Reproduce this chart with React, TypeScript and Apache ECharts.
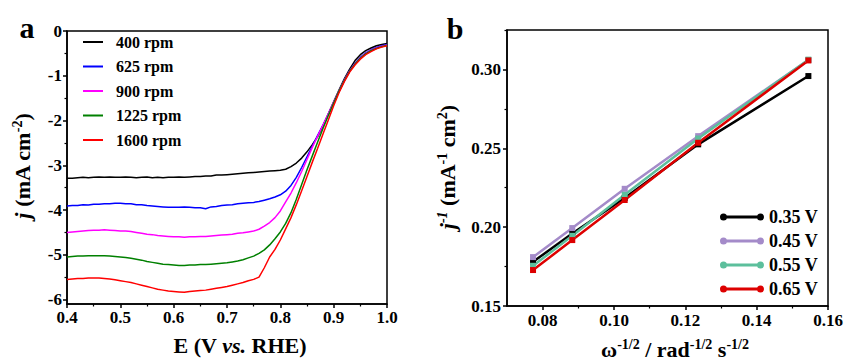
import React, { useEffect, useRef } from "react";
import * as echarts from "echarts";

// ---- Panel a: LSV curves ----
const potentials = [
  0.40, 0.41, 0.42, 0.43, 0.44, 0.45, 0.46, 0.47, 0.48, 0.49,
  0.50, 0.51, 0.52, 0.53, 0.54, 0.55, 0.56, 0.57, 0.58, 0.59,
  0.60, 0.61, 0.62, 0.63, 0.64, 0.65, 0.66, 0.67, 0.68, 0.69,
  0.70, 0.71, 0.72, 0.73, 0.74, 0.75, 0.76, 0.77, 0.78, 0.79,
  0.80, 0.81, 0.82, 0.83, 0.84, 0.85, 0.86, 0.87, 0.88, 0.89,
  0.90, 0.91, 0.92, 0.93, 0.94, 0.95, 0.96, 0.97, 0.98, 0.99,
  1.00,
];
const rpm400 = [
  -3.29, -3.29, -3.28, -3.27, -3.28, -3.27, -3.26, -3.27, -3.26, -3.27,
  -3.27, -3.26, -3.27, -3.28, -3.27, -3.26, -3.28, -3.27, -3.28, -3.27,
  -3.27, -3.26, -3.27, -3.26, -3.25, -3.25, -3.24, -3.24, -3.22, -3.22,
  -3.21, -3.20, -3.19, -3.18, -3.17, -3.16, -3.15, -3.14, -3.13, -3.12,
  -3.11, -3.09, -3.03, -2.95, -2.84, -2.70, -2.54, -2.36, -2.12, -1.85,
  -1.58, -1.32, -1.07, -0.85, -0.66, -0.53, -0.44, -0.38, -0.33, -0.30,
  -0.28,
];
const rpm625 = [
  -3.91, -3.90, -3.90, -3.88, -3.89, -3.87, -3.87, -3.86, -3.86, -3.85,
  -3.85, -3.86, -3.86, -3.88, -3.88, -3.90, -3.91, -3.92, -3.93, -3.94,
  -3.94, -3.94, -3.93, -3.94, -3.95, -3.95, -3.97, -3.93, -3.92, -3.90,
  -3.89, -3.88, -3.86, -3.85, -3.84, -3.83, -3.81, -3.78, -3.75, -3.71,
  -3.66, -3.58, -3.45, -3.27, -3.05, -2.81, -2.57, -2.33, -2.10, -1.86,
  -1.60, -1.35, -1.10, -0.89, -0.72, -0.59, -0.49, -0.42, -0.37, -0.33,
  -0.30,
];
const rpm900 = [
  -4.50, -4.49, -4.48, -4.47, -4.46, -4.45, -4.45, -4.44, -4.45, -4.46,
  -4.47, -4.47, -4.48, -4.50, -4.52, -4.54, -4.55, -4.57, -4.58, -4.59,
  -4.60, -4.60, -4.61, -4.60, -4.60, -4.59, -4.59, -4.58, -4.57, -4.56,
  -4.55, -4.54, -4.52, -4.51, -4.49, -4.47, -4.43, -4.36, -4.28, -4.17,
  -4.02, -3.82, -3.62, -3.39, -3.14, -2.87, -2.60, -2.35, -2.10, -1.85,
  -1.59, -1.34, -1.10, -0.89, -0.73, -0.60, -0.50, -0.43, -0.38, -0.34,
  -0.31,
];
const rpm1225 = [
  -5.05, -5.04, -5.03, -5.03, -5.02, -5.02, -5.02, -5.02, -5.03, -5.04,
  -5.05, -5.06, -5.08, -5.10, -5.12, -5.15, -5.17, -5.19, -5.21, -5.22,
  -5.23, -5.24, -5.24, -5.23, -5.23, -5.22, -5.22, -5.21, -5.20, -5.19,
  -5.18, -5.16, -5.14, -5.11, -5.07, -5.03, -4.97, -4.89, -4.78, -4.64,
  -4.49, -4.30, -4.06, -3.76, -3.43, -3.10, -2.79, -2.48, -2.18, -1.89,
  -1.61, -1.35, -1.11, -0.90, -0.74, -0.61, -0.51, -0.44, -0.39, -0.35,
  -0.32,
];
const rpm1600 = [
  -5.55, -5.54, -5.53, -5.53, -5.52, -5.52, -5.52, -5.53, -5.54, -5.56,
  -5.58, -5.60, -5.62, -5.65, -5.68, -5.71, -5.74, -5.77, -5.79, -5.81,
  -5.82, -5.83, -5.84, -5.82, -5.81, -5.80, -5.79, -5.77, -5.75, -5.73,
  -5.71, -5.68, -5.65, -5.62, -5.58, -5.55, -5.50, -5.29, -5.05, -4.88,
  -4.67, -4.42, -4.17, -3.88, -3.57, -3.25, -2.93, -2.62, -2.30, -1.99,
  -1.67, -1.38, -1.13, -0.92, -0.76, -0.63, -0.53, -0.46, -0.40, -0.36,
  -0.33,
];
const rpmNames = ["400 rpm", "625 rpm", "900 rpm", "1225 rpm", "1600 rpm"];
const rpmColors = ["#000000", "#0000ff", "#ff00ff", "#008000", "#ff0000"];
const aXTicks = [0.4, 0.5, 0.6, 0.7, 0.8, 0.9, 1.0];
const aYTicks = [-6, -5, -4, -3, -2, -1, 0];

// ---- Panel b: Koutecky-Levich plots ----
const omegaInvSqrt = [0.0773, 0.0883, 0.103, 0.1236, 0.1545];
const kl035 = [0.178, 0.196, 0.2185, 0.2525, 0.2958];
const kl045 = [0.181, 0.1994, 0.2243, 0.2577, 0.306];
const kl055 = [0.1755, 0.1945, 0.2205, 0.2562, 0.3062];
const kl065 = [0.1728, 0.1918, 0.2172, 0.2535, 0.3057];
const klNames = ["0.35 V", "0.45 V", "0.55 V", "0.65 V"];
const klColors = ["#000000", "#a48bc9", "#5cbf9c", "#dd0000"];
const bXTicks = [0.08, 0.1, 0.12, 0.14, 0.16];
const bYTicks = [0.15, 0.2, 0.25, 0.3];

const FONT = "Liberation Serif";

export default function App() {
  const ref = useRef<HTMLDivElement>(null);
  useEffect(() => {
    if (!ref.current) return;
    const chart = echarts.init(ref.current, undefined, { renderer: "svg" });
    const aSeries = [rpm400, rpm625, rpm900, rpm1225, rpm1600].map((vals, i) => ({
      name: rpmNames[i],
      type: "line",
      xAxisIndex: 0,
      yAxisIndex: 0,
      symbol: "none",
      color: rpmColors[i],
      lineStyle: { width: 1.5, color: rpmColors[i] },
      data: potentials.map((e, k) => [e, vals[k]]),
    }));
    const bSeries = [kl035, kl045, kl055, kl065].map((vals, i) => ({
      name: klNames[i],
      type: "line",
      xAxisIndex: 1,
      yAxisIndex: 1,
      symbol: "rect",
      symbolSize: 6,
      color: klColors[i],
      itemStyle: { color: klColors[i] },
      lineStyle: { width: 2.5, color: klColors[i] },
      data: omegaInvSqrt.map((x, k) => [x, vals[k]]),
    }));
    const axisCommon = {
      axisLine: { onZero: false, lineStyle: { color: "#000", width: 1.5 } },
      axisTick: { show: true, inside: false, length: 4, lineStyle: { color: "#000", width: 1.5 } },
      minorTick: { show: true, splitNumber: 2, length: 2.5, lineStyle: { color: "#000", width: 1.2 } },
      splitLine: { show: false },
      minorSplitLine: { show: false },
    };
    const labelFont = { color: "#000", fontFamily: FONT, fontWeight: "bold" as const, fontSize: 17 };
    const legendIcon =
      "path://M0,3.5A3.5,3.5,0,1,1,7,3.5A3.5,3.5,0,1,1,0,3.5ZM37,3.5A3.5,3.5,0,1,1,44,3.5A3.5,3.5,0,1,1,37,3.5ZM3.5,2L40.5,2L40.5,5L3.5,5Z";
    const baseText = { fontFamily: FONT, fontWeight: "bold", fontSize: 22, fill: "#000", lineHeight: 24 };
    const rich = {
      i: { fontFamily: FONT, fontWeight: "bold", fontStyle: "italic", fontSize: 22, fill: "#000", lineHeight: 24 },
      s: { fontFamily: FONT, fontWeight: "bold", fontSize: 14, fill: "#000", verticalAlign: "top", lineHeight: 14 },
      si: { fontFamily: FONT, fontWeight: "bold", fontStyle: "italic", fontSize: 14, fill: "#000", verticalAlign: "top", lineHeight: 14 },
    };
    chart.setOption({
      animation: false,
      backgroundColor: "#ffffff",
      grid: [
        { left: 67, right: 459, top: 31, bottom: 59, show: true, borderColor: "#000", borderWidth: 1.5, backgroundColor: "transparent" },
        { left: 507, right: 18, top: 30, bottom: 57, show: true, borderColor: "#000", borderWidth: 1.5, backgroundColor: "transparent" },
      ],
      xAxis: [
        {
          type: "value",
          gridIndex: 0,
          min: 0.4,
          max: 1.0,
          interval: 0.1,
          ...axisCommon,
          axisTick: { ...axisCommon.axisTick, customValues: aXTicks },
          axisLabel: { ...labelFont, margin: 5, customValues: aXTicks, formatter: (v: number) => v.toFixed(1) },
        },
        {
          type: "value",
          gridIndex: 1,
          min: 0.07,
          max: 0.16,
          ...axisCommon,
          axisTick: { ...axisCommon.axisTick, customValues: bXTicks },
          axisLabel: { ...labelFont, margin: 6, customValues: bXTicks, formatter: (v: number) => v.toFixed(2) },
        },
      ],
      yAxis: [
        {
          type: "value",
          gridIndex: 0,
          min: -6.1,
          max: 0,
          splitNumber: 6,
          ...axisCommon,
          axisTick: { ...axisCommon.axisTick, customValues: aYTicks },
          axisLabel: { ...labelFont, margin: 5, customValues: aYTicks, formatter: (v: number) => String(Math.round(v)) },
        },
        {
          type: "value",
          gridIndex: 1,
          min: 0.15,
          max: 0.325,
          interval: 0.05,
          ...axisCommon,
          axisTick: { ...axisCommon.axisTick, customValues: bYTicks },
          axisLabel: { ...labelFont, margin: 6, customValues: bYTicks, formatter: (v: number) => v.toFixed(2) },
        },
      ],
      legend: [
        {
          data: rpmNames.map((n) => ({ name: n, icon: "rect" })),
          orient: "vertical",
          left: 78,
          top: 29,
          itemWidth: 20,
          itemHeight: 2,
          itemGap: 8.5,
          textStyle: { color: "#000", fontFamily: FONT, fontWeight: "bold", fontSize: 16, lineHeight: 16, padding: [0, 0, 0, 8] },
        },
        {
          data: klNames.map((n) => ({ name: n, icon: legendIcon })),
          orient: "vertical",
          left: 715,
          top: 203,
          itemWidth: 44,
          itemHeight: 7,
          itemGap: 6,
          textStyle: { color: "#000", fontFamily: FONT, fontWeight: "bold", fontSize: 18, lineHeight: 18 },
        },
      ],
      graphic: [
        { type: "text", x: 27, y: 27, style: { ...baseText, text: "a", fontSize: 30, textAlign: "center", textVerticalAlign: "middle" } },
        { type: "text", x: 455, y: 28, style: { ...baseText, text: "b", fontSize: 30, textAlign: "center", textVerticalAlign: "middle" } },
        {
          type: "text",
          x: 240,
          y: 345,
          style: { ...baseText, text: "E (V {i|vs.} RHE)", rich, textAlign: "center", textVerticalAlign: "middle" },
        },
        {
          type: "text",
          x: 22,
          y: 166,
          rotation: Math.PI / 2,
          style: { ...baseText, text: "{i|j} (mA cm{s|-2})", rich, textAlign: "center", textVerticalAlign: "middle" },
        },
        {
          type: "text",
          x: 675,
          y: 349,
          style: { ...baseText, text: "ω{s|-1/2} / rad{s|-1/2} s{s|-1/2}", rich, textAlign: "center", textVerticalAlign: "middle" },
        },
        {
          type: "text",
          x: 447,
          y: 167,
          rotation: Math.PI / 2,
          style: { ...baseText, text: "{i|j}{si|-1} (mA{s|-1} cm{s|2})", rich, textAlign: "center", textVerticalAlign: "middle" },
        },
      ],
      series: [...aSeries, ...bSeries],
    });
    return () => chart.dispose();
  }, []);
  return <div ref={ref} style={{ position: "absolute", left: 0, top: 0, width: 846, height: 363 }} />;
}
